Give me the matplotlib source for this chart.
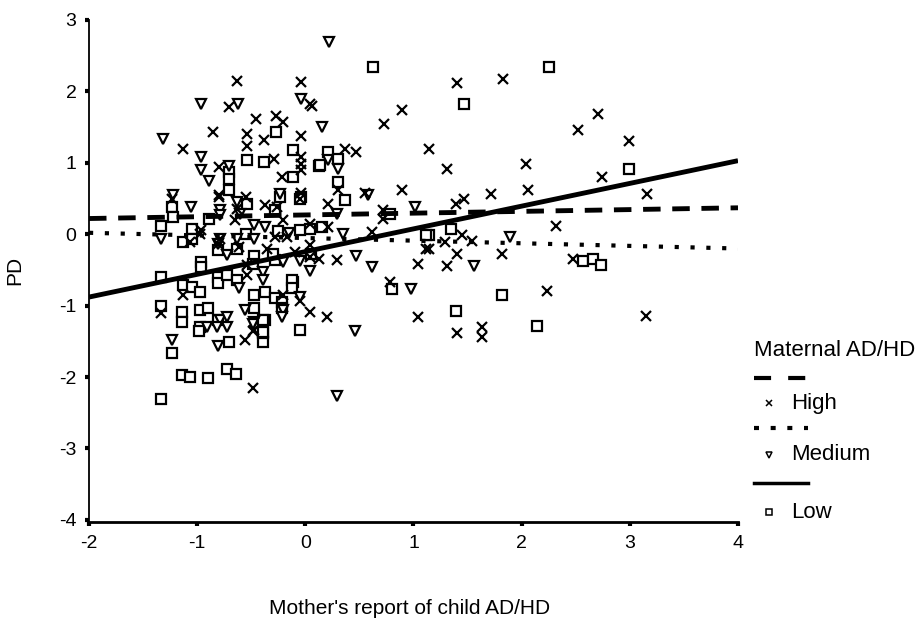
import numpy as np
import matplotlib
matplotlib.use("Agg")
import matplotlib.pyplot as plt
from matplotlib.lines import Line2D

plt.rcParams['font.family'] = ['Liberation Sans', 'DejaVu Sans']
plt.rcParams['axes.unicode_minus'] = False

# --- data ---
high_pts = [
    (1.40, 2.12), (1.83, 2.17), (0.89, 1.74), (0.73, 1.54), (1.14, 1.20), (1.31, 0.92),
    (2.71, 1.68), (2.52, 1.46), (2.99, 1.30), (2.74, 0.80), (3.16, 0.57), (2.04, 0.99),
    (2.06, 0.62), (1.72, 0.56), (1.47, 0.50), (1.39, 0.43), (0.89, 0.62), (2.32, 0.11),
    (1.82, -0.27), (1.40, -0.28), (1.14, -0.21), (1.04, -0.41), (1.31, -0.45), (1.29, -0.11),
    (1.45, -0.01), (1.54, -0.10), (2.47, -0.34), (2.23, -0.80), (1.04, -1.16), (1.40, -1.39),
    (1.63, -1.30), (1.63, -1.44), (3.15, -1.15),
    (-0.04, 2.13), (0.04, 1.82), (0.06, 1.80), (-0.04, 1.37), (-0.04, 1.08), (-0.04, 0.99),
    (-0.04, 0.90), (0.37, 1.20), (0.47, 1.15), (0.30, 0.62), (0.55, 0.58), (-0.04, 0.58),
    (0.21, 0.43), (0.72, 0.34), (0.72, 0.22), (0.04, 0.15), (0.21, 0.10), (0.62, 0.03),
    (0.04, -0.15), (0.13, -0.34), (0.29, -0.36), (1.12, -0.20), (0.78, -0.67), (0.04, -1.09),
    (0.20, -1.16), (-0.05, -0.94), (0.04, -0.32), (-0.05, 0.50), (-0.96, 0.06),
    (-0.63, 2.14), (-0.71, 1.78), (-0.46, 1.62), (-0.27, 1.65), (-0.21, 1.57), (-0.85, 1.43),
    (-0.54, 1.41), (-0.54, 1.23), (-0.38, 1.32), (-1.13, 1.20), (-0.29, 1.06), (-0.80, 0.94),
    (-0.22, 0.80), (-0.80, 0.55), (-0.55, 0.52), (-1.23, 0.50), (-0.80, 0.52), (-0.63, 0.36),
    (-0.37, 0.41), (-0.26, 0.38), (-0.65, 0.20), (-0.21, 0.20), (-0.97, 0.01), (-1.07, -0.11),
    (-0.79, -0.06), (-0.61, -0.18), (-0.28, -0.04), (-0.17, -0.04), (-0.54, -0.43), (-0.54, -0.57),
    (-1.13, -0.85), (-0.21, -0.85), (-1.33, -1.11), (-0.47, -1.34), (-0.56, -1.48), (-0.48, -2.16),
    (-0.48, -1.35), (-0.81, -0.13), (-0.35, -0.20), (-0.10, -0.25),
]

medium_pts = [
    (0.22, 2.69), (-0.04, 1.89), (0.15, 1.50), (0.21, 1.04), (0.30, 0.92), (0.58, 0.55),
    (-0.96, 1.82), (-0.62, 1.83), (-1.32, 1.33), (-0.96, 1.08), (-0.96, 0.90), (-0.89, 0.74),
    (-0.71, 0.95), (-1.22, 0.55), (-0.23, 0.57), (-1.06, 0.38), (-0.63, 0.45), (-0.79, 0.34),
    (-0.79, 0.27), (-0.60, 0.28), (-0.47, 0.13), (-0.37, 0.10), (-0.47, -0.06), (-1.33, -0.06),
    (-0.79, -0.06), (-0.63, -0.06), (-0.72, -0.29), (-0.39, -0.53), (-0.39, -0.64), (-0.21, -0.39),
    (-0.61, -0.76), (-0.56, -1.06), (-0.21, -1.06), (-0.79, -1.20), (-0.72, -1.16), (-0.72, -1.30),
    (-0.47, -1.23), (-1.23, -1.48), (-0.81, -1.57), (-0.91, -1.30), (-0.82, -1.30), (-0.48, -1.26),
    (-0.22, -1.16), (-0.81, -0.13), (0.29, 0.28), (0.47, -0.30), (0.62, -0.46), (0.04, -0.52),
    (-0.05, -0.37), (-0.05, -0.88), (0.46, -1.35), (0.29, -2.27), (0.98, -0.77), (1.01, 0.38),
    (1.56, -0.45), (1.89, -0.04), (0.35, 0.00), (-0.15, 0.02),
]

low_pts = [
    (0.63, 2.34), (2.25, 2.34), (1.47, 1.82), (2.99, 0.91), (1.14, -0.01), (1.35, 0.08),
    (2.57, -0.38), (2.66, -0.34), (2.73, -0.43), (1.82, -0.85), (1.39, -1.08), (2.14, -1.29),
    (-0.11, 1.18), (-0.11, 0.80), (0.21, 1.15), (0.13, 0.95), (0.30, 1.06), (0.30, 0.73),
    (-0.04, 0.52), (0.37, 0.48), (0.78, 0.29), (0.04, 0.08), (0.15, 0.10), (-0.05, 0.06),
    (-0.11, -0.67), (0.80, -0.77), (1.12, -0.01), (-0.05, -1.34), (0.14, 0.97), (-0.05, 0.50),
    (-0.27, 1.43), (-0.54, 1.04), (-0.38, 1.01), (-0.71, 0.87), (-0.71, 0.78), (-0.71, 0.62),
    (-1.23, 0.38), (-1.22, 0.24), (-0.54, 0.43), (-0.28, 0.34), (-0.23, 0.52), (-0.89, 0.22),
    (-1.33, 0.11), (-1.05, 0.08), (-1.13, -0.11), (-1.05, -0.06), (-0.81, -0.22), (-0.47, -0.30),
    (-0.96, -0.39), (-0.96, -0.46), (-0.48, -0.41), (-0.28, -0.36), (-1.33, -0.60), (-0.81, -0.60),
    (-0.81, -0.69), (-0.72, -0.57), (-0.63, -0.64), (-1.13, -0.71), (-1.05, -0.74), (-0.97, -0.81),
    (-0.12, -0.64), (-0.12, -0.76), (-0.47, -0.85), (-0.37, -0.81), (-0.28, -0.90), (-0.47, -1.04),
    (-1.33, -1.00), (-1.14, -1.09), (-1.14, -1.23), (-0.97, -1.06), (-0.90, -1.04), (-0.97, -1.30),
    (-0.81, -1.20), (-0.37, -1.20), (-1.23, -1.67), (-0.71, -1.51), (-0.39, -1.51), (-0.39, -1.39),
    (-0.39, -1.20), (-0.39, -1.37), (-1.14, -1.97), (-1.07, -2.00), (-0.90, -2.02), (-0.72, -1.89),
    (-0.64, -1.96), (-1.33, -2.31), (-0.98, -1.36), (-0.22, -0.95), (-0.22, -1.04), (-0.63, -0.20),
    (-0.55, 0.00), (-0.25, 0.05), (0.05, -0.28), (-0.30, -0.28),
]

# regression lines (x from -2 to 4)
line_x = [-2, 4]
high_line = [0.22, 0.37]
medium_line = [0.02, -0.20]
low_line = [-0.88, 1.03]

xticks = [-2, -1, 0, 1, 2, 3, 4]
yticks = [-4, -3, -2, -1, 0, 1, 2, 3]

hx, hy = np.array(high_pts).T
mx, my = np.array(medium_pts).T
lx, ly = np.array(low_pts).T

fig = plt.figure(figsize=(9.2, 6.2), dpi=100)
ax = fig.add_axes([89 / 920, 1 - 522 / 620, (738 - 89) / 920, (522 - 20) / 620])

ax.plot(lx, ly, 's', ms=6.5, mfc='white', mec='black', mew=1.6, ls='none')
ax.plot(mx, my, 'v', ms=7.8, mfc='white', mec='black', mew=1.6, ls='none')
ax.plot(hx, hy, 'x', ms=6.5, color='black', mew=1.6, ls='none')

ax.plot(line_x, high_line, color='black', lw=3.5, dashes=[3.6, 2.4], solid_capstyle='butt')
ax.plot(line_x, medium_line, color='black', lw=3.0, dashes=[1, 2.8])
ax.plot(line_x, low_line, color='black', lw=3.5, solid_capstyle='butt')

ax.set_xlim(-2, 4)
ax.set_ylim(-4.03, 3)
ax.set_xticks(xticks)
ax.set_yticks(yticks)
ax.tick_params(direction='out', length=3, width=3, labelsize=14, pad=6)
for s in ['top', 'right']:
    ax.spines[s].set_visible(False)
ax.spines['left'].set_linewidth(1.3)
ax.spines['bottom'].set_linewidth(2)

fig.text(410 / 920, 1 - 608 / 620, "Mother's report of child AD/HD", ha='center', va='center', fontsize=15)
fig.text(15 / 920, 1 - 270 / 620, "PD", ha='center', va='center', rotation=90, fontsize=15)

# legend drawn by hand (lines on one row, marker + label on the next)
def fx(p):
    return p / 920

def fy(p):
    return 1 - p / 620

fig.text(fx(754), fy(351), "Maternal AD/HD", ha='left', va='center', fontsize=16)
fig.add_artist(Line2D([fx(754), fx(808)], [fy(378)] * 2, color='black', lw=3, dashes=[4.1, 4.1]))
fig.add_artist(Line2D([fx(754), fx(808)], [fy(428)] * 2, color='black', lw=3, dashes=[1.2, 2.8]))
fig.add_artist(Line2D([fx(754), fx(808)], [fy(483)] * 2, color='black', lw=2.5))
rows = [('x', 'High', 403), ('v', 'Medium', 455), ('s', 'Low', 512)]
for mk, lab, py in rows:
    fig.add_artist(Line2D([fx(769)], [fy(py)], marker=mk, ms=5, mfc='white', mec='black', mew=1.1, ls='none'))
    fig.text(fx(791), fy(py), lab, ha='left', va='center', fontsize=16)

fig.savefig('out.png', dpi=100)
